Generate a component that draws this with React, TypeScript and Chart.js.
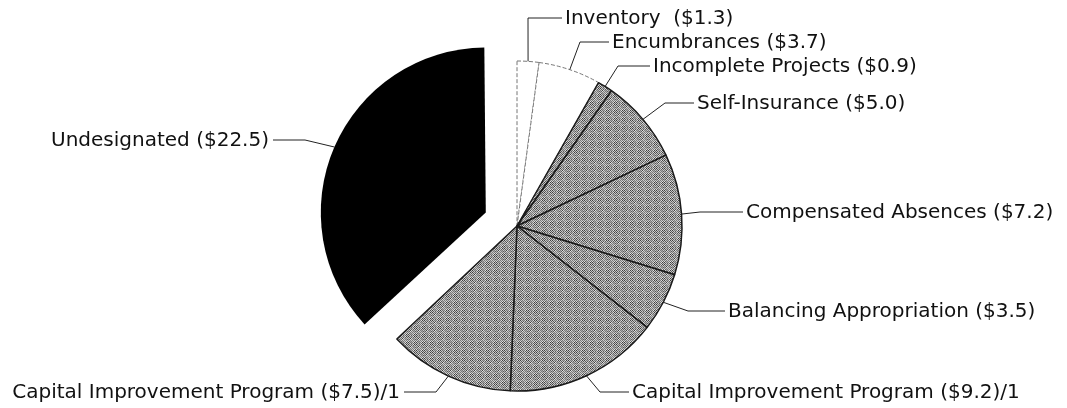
import React, { useEffect, useRef } from "react";
import { Chart, registerables } from "chart.js";

Chart.register(...registerables);

// ---- data ----
const categories = [
  "Inventory",
  "Encumbrances",
  "Incomplete Projects",
  "Self-Insurance",
  "Compensated Absences",
  "Balancing Appropriation",
  "Capital Improvement Program",
  "Capital Improvement Program",
  "Undesignated",
];
const values = [1.3, 3.7, 0.9, 5.0, 7.2, 3.5, 9.2, 7.5, 22.5];
const footnotes = ["", "", "", "", "", "", "/1", "/1", ""];
const nameGaps = ["  ", " ", " ", " ", " ", " ", " ", " ", " "];

// ---- styling / layout (kept apart from data) ----
const fillKinds = ["white", "white", "gray", "gray", "gray", "gray", "gray", "gray", "black"];
// explode distance in px (Chart.js translates an arc by offset/4, so the option gets 4x)
const explode = [0, 0, 0, 0, 0, 0, 0, 0, 34];
const sliceOffsets = explode.map((e) => e * 4);
// label placement: text anchor (x,y), elbow x on the label's row, side the text sits on
const labelLayout = [
  { x: 565, y: 18, elbowX: 528, side: "right" },
  { x: 612, y: 42, elbowX: 580, side: "right" },
  { x: 653, y: 66, elbowX: 618, side: "right" },
  { x: 697, y: 103, elbowX: 665, side: "right" },
  { x: 746, y: 212, elbowX: 700, side: "right" },
  { x: 728, y: 311, elbowX: 688, side: "right" },
  { x: 632, y: 392, elbowX: 600, side: "right" },
  { x: 400, y: 392, elbowX: 436, side: "left" },
  { x: 269, y: 140, elbowX: 305, side: "left" },
];

const W = 1067;
const H = 408;
const FONT = '20px "DejaVu Sans", sans-serif';

function radiusOffsetOf(arc: any): number {
  const off = (arc.options?.offset || 0) / 4;
  const circ = arc.circumference || 0;
  return off * (1 - Math.sin(Math.min(Math.PI, circ)));
}

function makeGrayPattern(ctx: CanvasRenderingContext2D): CanvasPattern | string {
  const n = 8;
  const c = document.createElement("canvas");
  c.width = n;
  c.height = n;
  const g = c.getContext("2d");
  if (!g) return "#8a8a8a";
  const levels = ["#3c3c3c", "#5c5c5c", "#7a7a7a", "#a8a8a8", "#c8c8c8", "#e0e0e0"];
  for (let yy = 0; yy < n; yy++)
    for (let xx = 0; xx < n; xx++) {
      const h = (xx * 37 + yy * 91 + xx * yy * 17 + ((xx + yy) % 2) * 3) % 6;
      const idx = (xx + yy) % 2 === 0 ? Math.min(h, 2) : 3 + (h % 3);
      g.fillStyle = levels[idx];
      g.fillRect(xx, yy, 1, 1);
    }
  return ctx.createPattern(c, "repeat") || "#8a8a8a";
}

const radiusFixPlugin = {
  id: "radiusFix",
  afterDatasetUpdate(chart: any, args: any) {
    const meta = chart.getDatasetMeta(args.index);
    meta.data.forEach((arc: any) => {
      const r = radiusOffsetOf(arc);
      if (r) arc.outerRadius = arc.outerRadius - r;
    });
  },
};

const labelPlugin = {
  id: "leaderLabels",
  afterDraw(chart: any) {
    const ctx: CanvasRenderingContext2D = chart.ctx;
    const meta = chart.getDatasetMeta(0);
    ctx.save();
    ctx.font = FONT;
    ctx.fillStyle = "#111111";
    ctx.strokeStyle = "#222222";
    ctx.lineWidth = 1;
    ctx.textBaseline = "middle";
    meta.data.forEach((arc: any, i: number) => {
      const p = arc.getProps(["x", "y", "startAngle", "endAngle", "outerRadius"], true);
      const shift = (arc.options?.offset || 0) / 4;
      const radius = p.outerRadius + radiusOffsetOf(arc);
      const mid = (p.startAngle + p.endAngle) / 2;
      const cx = p.x + Math.cos(mid) * shift;
      const cy = p.y + Math.sin(mid) * shift;
      const px = cx + Math.cos(mid) * radius;
      const py = cy + Math.sin(mid) * radius;
      const L = labelLayout[i];
      const edge = L.side === "right" ? L.x - 3 : L.x + 4;
      ctx.beginPath();
      ctx.moveTo(px, py);
      ctx.lineTo(L.elbowX, L.y);
      ctx.lineTo(edge, L.y);
      ctx.stroke();
      const text = `${categories[i]}${nameGaps[i]}($${values[i].toFixed(1)})${footnotes[i]}`;
      ctx.textAlign = L.side === "right" ? "left" : "right";
      ctx.fillText(text, L.x, L.y + 1);
    });
    ctx.restore();
  },
};

export default function App() {
  const ref = useRef<HTMLCanvasElement>(null);

  useEffect(() => {
    const canvas = ref.current;
    if (!canvas) return;
    const ctx = canvas.getContext("2d");
    if (!ctx) return;
    const gray = makeGrayPattern(ctx);
    const bg = fillKinds.map((k) => (k === "white" ? "#ffffff" : k === "black" ? "#000000" : gray));
    const borders = fillKinds.map((k) => (k === "white" ? "#777777" : k === "black" ? "#000000" : "#1a1a1a"));
    const borderWidths = fillKinds.map((k) => (k === "white" ? 1 : k === "black" ? 0 : 1.5));

    const chart = new Chart(canvas, {
      type: "pie",
      data: {
        labels: categories,
        datasets: [
          {
            data: values,
            backgroundColor: bg as any,
            borderColor: borders,
            borderWidth: borderWidths,
            borderDash: (c: any) => (fillKinds[c.dataIndex] === "white" ? [4, 2] : []),
            offset: sliceOffsets,
          } as any,
        ],
      },
      options: {
        animation: false,
        responsive: false,
        devicePixelRatio: 1,
        events: [],
        radius: 165,
        layout: { padding: { left: 0, right: 33, top: 44, bottom: 0 } },
        plugins: {
          legend: { display: false },
          tooltip: { enabled: false },
          title: { display: false },
        },
      } as any,
      plugins: [radiusFixPlugin, labelPlugin],
    });
    return () => chart.destroy();
  }, []);

  return (
    <div style={{ position: "absolute", left: 0, top: 0, width: W, height: H, background: "#ffffff" }}>
      <canvas ref={ref} width={W} height={H} style={{ display: "block", width: W, height: H }} />
    </div>
  );
}
